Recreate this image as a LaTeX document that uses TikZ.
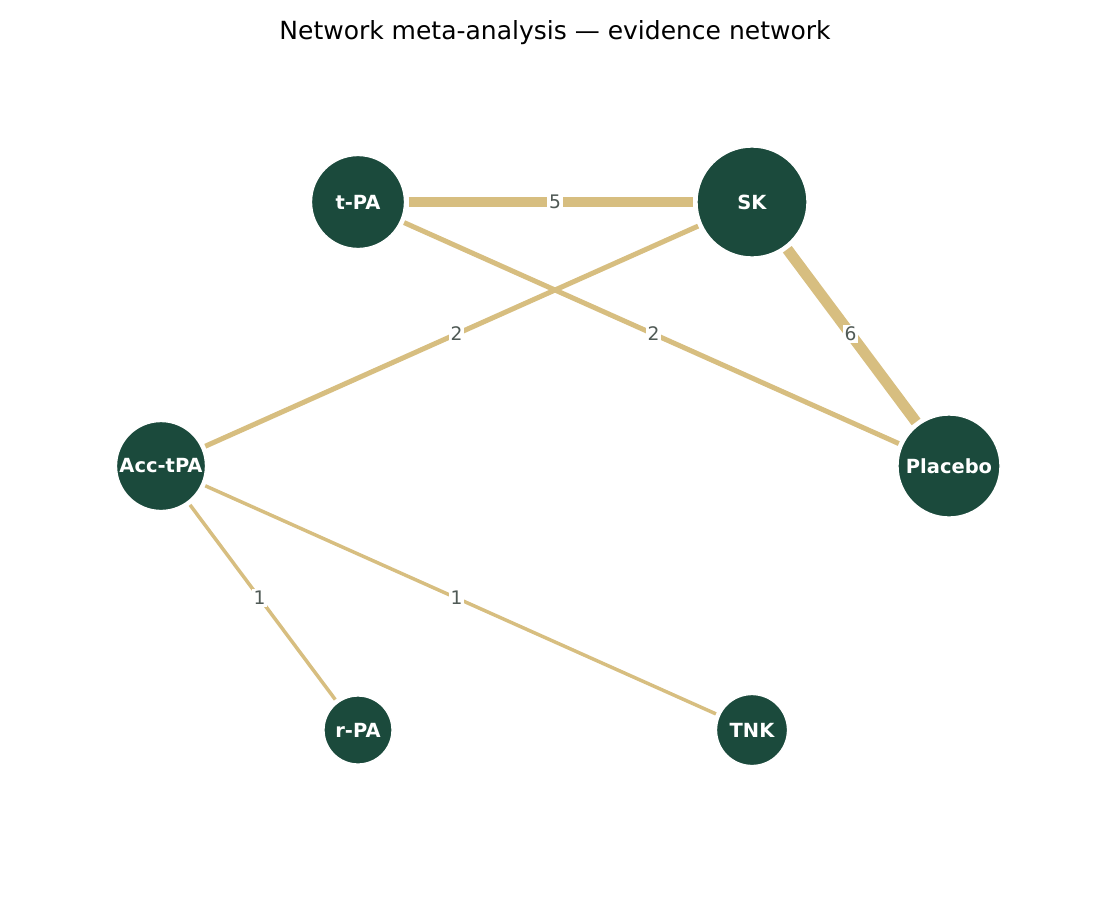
\documentclass[tikz,border=0pt]{standalone}
\usepackage{fontspec}
\setmainfont{DejaVu Sans}
\definecolor{nodegreen}{HTML}{1B4A3C}
\definecolor{edgegold}{HTML}{D7BE80}
\definecolor{labgray}{HTML}{505A56}
\begin{document}
\begin{tikzpicture}[x=0.75pt,y=-0.75pt,
  trt/.style={circle,fill=nodegreen,draw=white,line width=1pt,inner sep=0pt,
    minimum size=#1*1.5pt,outer sep=3pt,text=white,
    font=\fontsize{14.6pt}{17pt}\selectfont\bfseries},
  link/.style={draw=edgegold,line width=#1*0.75pt,line cap=butt},
  cnt/.style={fill=white,inner sep=1.3pt,text=labgray,
    font=\fontsize{14pt}{16pt}\selectfont}]
\useasboundingbox (0,0) rectangle (1110,900);
\node[font=\fontsize{18.75pt}{22pt}\selectfont] (title) at (555,33) {Network meta-analysis — evidence network};
\node[trt=46.5] (tpa) at (358,202) {t-PA};
\node[trt=55] (sk) at (752,202) {SK};
\node[trt=44.5] (acc) at (161,466) {Acc-tPA};
\node[trt=51] (plc) at (949,466) {Placebo};
\node[trt=34] (rpa) at (358,730) {r-PA};
\node[trt=35.5] (tnk) at (752,730) {TNK};
\path[link=9.5] (tpa) -- (sk);
\path[link=11] (sk) -- (plc);
\path[link=5] (tpa) -- (plc);
\path[link=5] (sk) -- (acc);
\path[link=3.5] (acc) -- (rpa);
\path[link=3.5] (acc) -- (tnk);
\path (tpa.center) -- node[cnt] (l1) {5} (sk.center);
\path (sk.center) -- node[cnt] (l2) {6} (plc.center);
\path (tpa.center) -- node[cnt] (l3) {2} (plc.center);
\path (sk.center) -- node[cnt] (l4) {2} (acc.center);
\path (acc.center) -- node[cnt] (l5) {1} (rpa.center);
\path (acc.center) -- node[cnt] (l6) {1} (tnk.center);
\end{tikzpicture}
\end{document}
